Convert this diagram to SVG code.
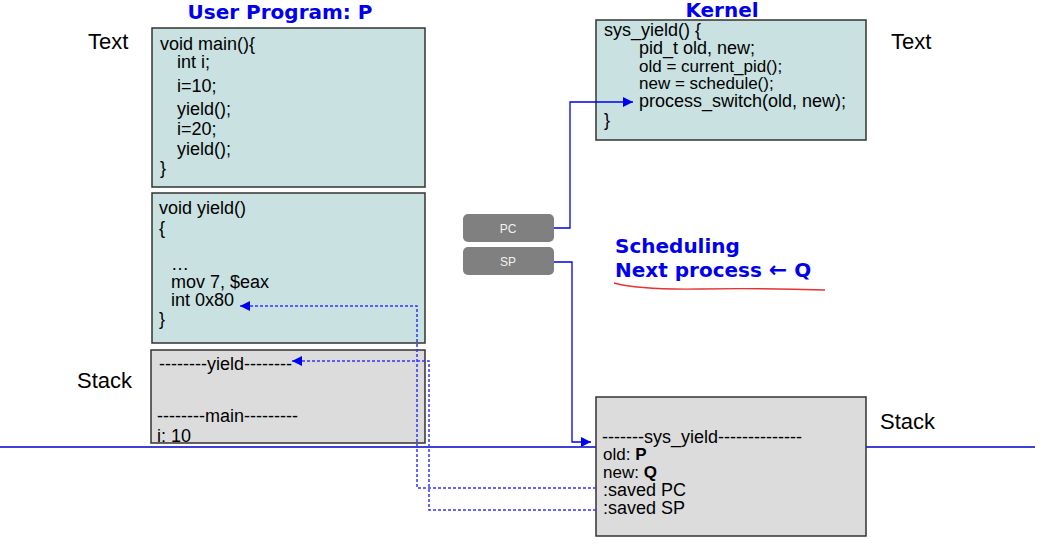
<svg xmlns="http://www.w3.org/2000/svg" width="1045" height="545" viewBox="0 0 1045 545">
<style>
.code{font-family:"Liberation Sans",Arial,sans-serif;font-size:18px;fill:#000}
.tight{font-size:17px}
.lbl{font-family:"Liberation Sans",Arial,sans-serif;font-size:22px;fill:#000}
.title{font-family:"DejaVu Sans",Verdana,sans-serif;font-size:20px;font-weight:bold;fill:#0000ee}
.tbox{fill:#c9e1e1;stroke:#333;stroke-width:1.5}
.sbox{fill:#dcdcdc;stroke:#333;stroke-width:1.5}
.reg{fill:#808080}
.regt{font-family:"Liberation Sans",Arial,sans-serif;font-size:12px;fill:#f2f2f2;text-anchor:middle}
.conn{fill:none;stroke:#0000ee;stroke-width:1.3}
.dash{fill:none;stroke:#3333ff;stroke-width:1.5;stroke-dasharray:3 2}
</style>
<defs>
<marker id="ah2" viewBox="0 0 10 10" refX="10" refY="5" markerWidth="10" markerHeight="10" orient="auto" markerUnits="userSpaceOnUse">
<path d="M0,0 L10,5 L0,10 z" fill="#0000ee"/>
</marker>
</defs>
<rect width="1045" height="545" fill="#fff"/>
<line x1="0" y1="447" x2="1035" y2="447" stroke="#0000cc" stroke-width="1.5"/>

<g id="labels">
<text class="lbl" x="88" y="49">Text</text>
<text class="lbl" x="77" y="388">Stack</text>
<text class="lbl" x="891" y="49">Text</text>
<text class="lbl" x="880" y="429">Stack</text>
<text class="title" x="280" y="19" text-anchor="middle">User Program: P</text>
<text class="title" x="722" y="17" text-anchor="middle" font-size="19">Kernel</text>
</g>

<g id="main-code">
<rect class="tbox" x="152" y="28" width="273" height="159"/>
<text class="code" x="160" y="50">void main(){</text>
<text class="code" x="177" y="68">int i;</text>
<text class="code" x="177" y="92">i=10;</text>
<text class="code" x="177" y="115">yield();</text>
<text class="code" x="177" y="135">i=20;</text>
<text class="code" x="177" y="155">yield();</text>
<text class="code" x="160" y="174">}</text>
</g>

<g id="yield-code">
<rect class="tbox" x="152" y="193" width="273" height="150"/>
<text class="code" x="159" y="214">void yield()</text>
<text class="code" x="159" y="234">{</text>
<text class="code" x="171" y="270">…</text>
<text class="code" x="171" y="288">mov 7, $eax</text>
<text class="code" x="171" y="306">int 0x80</text>
<text class="code" x="159" y="325">}</text>
</g>

<g id="user-stack">
<rect class="sbox" x="151" y="350" width="274" height="93"/>
<text class="code" x="159" y="370">--------yield--------</text>
<text class="code" x="157" y="422">--------main---------</text>
<text class="code" x="157" y="442">i: 10</text>
</g>

<g id="kernel-code">
<rect class="tbox" x="596" y="20" width="270" height="120"/>
<text class="code" x="604" y="36">sys_yield() {</text>
<text class="code" x="639" y="54">pid_t old, new;</text>
<text class="code tight" x="639" y="72">old = current_pid();</text>
<text class="code tight" x="639" y="89">new = schedule();</text>
<text class="code" x="639" y="107">process_switch(old, new);</text>
<text class="code" x="604" y="126">}</text>
</g>

<g id="pc">
<rect class="reg" x="463" y="214" width="91" height="28" rx="5"/>
<text class="regt" x="508" y="233">PC</text>
</g>
<g id="sp">
<rect class="reg" x="463" y="247" width="91" height="28" rx="5"/>
<text class="regt" x="508" y="266">SP</text>
</g>

<g id="scheduling">
<text class="title" x="615" y="253">Scheduling</text>
<text class="title" x="615" y="277">Next process <tspan font-size="22">←</tspan> Q</text>
<path d="M614,283 Q640,290 700,289 T825,290" fill="none" stroke="#e53333" stroke-width="1.3"/>
</g>

<g id="kernel-stack">
<rect class="sbox" x="596" y="397" width="270" height="139"/>
<text class="code" x="602" y="443">-------sys_yield--------------</text>
<text class="code tight" x="603" y="460">old: <tspan font-weight="bold">P</tspan></text>
<text class="code tight" x="603" y="478">new: <tspan font-weight="bold">Q</tspan></text>
<text class="code" x="603" y="496">:saved PC</text>
<text class="code" x="603" y="514">:saved SP</text>
</g>

<g id="connectors">
<path class="conn" d="M554,228 H570 V102 H633" marker-end="url(#ah2)"/>
<path class="conn" d="M554,262 H572 V442 H591" marker-end="url(#ah2)"/>
<path class="dash" d="M596,488 H417 V306 H240" marker-end="url(#ah2)"/>
<path class="dash" d="M596,510 H429 V361 H292" marker-end="url(#ah2)"/>
</g>
</svg>
